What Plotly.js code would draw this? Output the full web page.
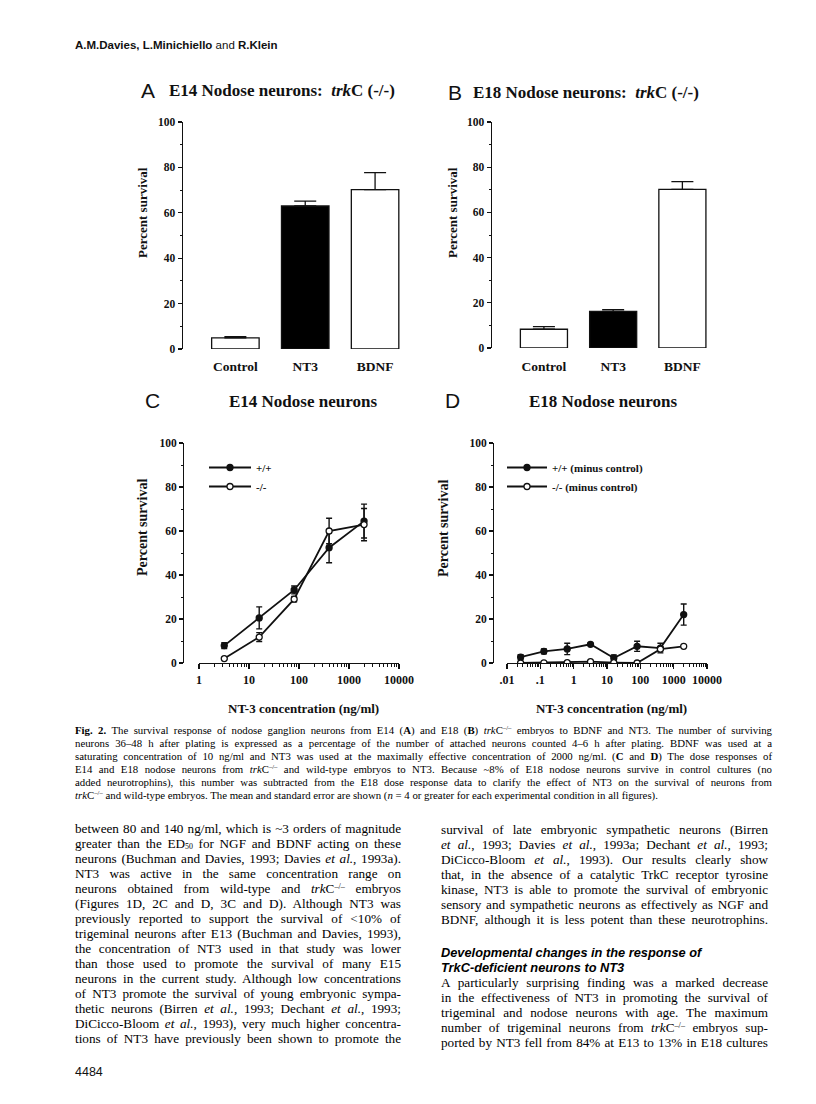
<!DOCTYPE html>
<html><head><meta charset="utf-8">
<script src="https://cdn.plot.ly/plotly-3.0.1.min.js"></script>
<style>
html,body{margin:0;padding:0;background:#fff;}
#page{position:relative;width:816px;height:1104px;overflow:hidden;background:#fff;}
#plot{position:absolute;left:0;top:0;width:816px;height:1104px;}
.t{position:absolute;color:#111;}
.hdr{font-family:"Liberation Sans",Arial,sans-serif;font-size:11.5px;}
.cap div{position:absolute;left:75px;width:697px;height:13px;line-height:13px;font-family:"Liberation Serif","Times New Roman",serif;font-size:10.8px;text-align:justify;text-align-last:justify;}
.cap div.last{text-align-last:left;}
.body div{position:absolute;height:15px;line-height:15px;font-family:"Liberation Serif","Times New Roman",serif;font-size:13.2px;text-align:justify;text-align-last:justify;}
.L div{left:75px;width:326px;}
.R div{left:441px;width:327px;}
.R div.h{font-family:"Liberation Sans",Arial,sans-serif;font-weight:bold;font-style:italic;font-size:12.8px;text-align:left;text-align-last:left;}
sup{font-size:62%;line-height:0;vertical-align:baseline;position:relative;top:-0.55em;}
sub{font-size:60%;line-height:0;vertical-align:baseline;position:relative;top:0.1em;}
</style></head>
<body><div id="page">
<div id="plot"></div>
<div class="t hdr" style="left:75px;top:39px;"><b>A.M.Davies, L.Minichiello</b> and <b>R.Klein</b></div>
<div class="cap">
<div style="top:724px"><b>Fig. 2.</b> The survival response of nodose ganglion neurons from E14 (<b>A</b>) and E18 (<b>B</b>) <i>trk</i>C<sup>–/–</sup> embryos to BDNF and NT3. The number of surviving</div>
<div style="top:737px">neurons 36–48 h after plating is expressed as a percentage of the number of attached neurons counted 4–6 h after plating. BDNF was used at a</div>
<div style="top:750px">saturating concentration of 10 ng/ml and NT3 was used at the maximally effective concentration of 2000 ng/ml. (<b>C</b> and <b>D</b>) The dose responses of</div>
<div style="top:763px">E14 and E18 nodose neurons from <i>trk</i>C<sup>–/–</sup> and wild-type embryos to NT3. Because ~8% of E18 nodose neurons survive in control cultures (no</div>
<div style="top:776px">added neurotrophins), this number was subtracted from the E18 dose response data to clarify the effect of NT3 on the survival of neurons from</div>
<div class="last" style="top:789px"><i>trk</i>C<sup>–/–</sup> and wild-type embryos. The mean and standard error are shown (<i>n</i> = 4 or greater for each experimental condition in all figures).</div>
</div>
<div class="body L">
<div style="top:821px">between 80 and 140 ng/ml, which is ~3 orders of magnitude</div>
<div style="top:836px">greater than the ED<sub>50</sub> for NGF and BDNF acting on these</div>
<div style="top:851px">neurons (Buchman and Davies, 1993; Davies <i>et al.</i>, 1993a).</div>
<div style="top:866px">NT3 was active in the same concentration range on</div>
<div style="top:881px">neurons obtained from wild-type and <i>trk</i>C<sup>–/–</sup> embryos</div>
<div style="top:896px">(Figures 1D, 2C and D, 3C and D). Although NT3 was</div>
<div style="top:911px">previously reported to support the survival of &lt;10% of</div>
<div style="top:926px">trigeminal neurons after E13 (Buchman and Davies, 1993),</div>
<div style="top:941px">the concentration of NT3 used in that study was lower</div>
<div style="top:956px">than those used to promote the survival of many E15</div>
<div style="top:971px">neurons in the current study. Although low concentrations</div>
<div style="top:986px">of NT3 promote the survival of young embryonic sympa-</div>
<div style="top:1001px">thetic neurons (Birren <i>et al.</i>, 1993; Dechant <i>et al.</i>, 1993;</div>
<div style="top:1016px">DiCicco-Bloom <i>et al.</i>, 1993), very much higher concentra-</div>
<div style="top:1031px">tions of NT3 have previously been shown to promote the</div>
</div>
<div class="body R">
<div style="top:822px">survival of late embryonic sympathetic neurons (Birren</div>
<div style="top:837px"><i>et al.</i>, 1993; Davies <i>et al.</i>, 1993a; Dechant <i>et al.</i>, 1993;</div>
<div style="top:852px">DiCicco-Bloom <i>et al.</i>, 1993). Our results clearly show</div>
<div style="top:867px">that, in the absence of a catalytic TrkC receptor tyrosine</div>
<div style="top:882px">kinase, NT3 is able to promote the survival of embryonic</div>
<div style="top:897px">sensory and sympathetic neurons as effectively as NGF and</div>
<div style="top:912px">BDNF, although it is less potent than these neurotrophins.</div>
<div class="h" style="top:945px">Developmental changes in the response of</div>
<div class="h" style="top:960px">TrkC-deficient neurons to NT3</div>
<div style="top:975px">A particularly surprising finding was a marked decrease</div>
<div style="top:990px">in the effectiveness of NT3 in promoting the survival of</div>
<div style="top:1005px">trigeminal and nodose neurons with age. The maximum</div>
<div style="top:1020px">number of trigeminal neurons from <i>trk</i>C<sup>–/–</sup> embryos sup-</div>
<div style="top:1035px">ported by NT3 fell from 84% at E13 to 13% in E18 cultures</div>
</div>
<div class="t hdr" style="left:75px;top:1065px;font-size:12.5px;">4484</div>
</div>
<script>
// ---- data ----
const categories = ['Control', 'NT3', 'BDNF'];
const survivalA = [4.9, 63.0, 70.2];
const errorA = [0.5, 2.1, 7.5];
const survivalB = [8.3, 16.2, 70.2];
const errorB = [1.2, 0.8, 3.4];
const barColors = ['white', 'black', 'white'];

const concC = [3.2, 16, 80, 400, 2000];
const wildC = [7.9, 20.5, 33.2, 52.4, 64.5];
const wildErrC = [1.3, 5.0, 1.8, 6.8, 7.7];
const koC = [2.0, 11.8, 29.0, 60.0, 62.9];
const koErrC = [0.4, 2.0, 1.2, 5.8, 7.3];

const concD = [0.0256, 0.128, 0.64, 3.2, 16, 80, 400, 2000];
const wildD = [2.7, 5.3, 6.4, 8.5, 2.3, 7.6, 6.8, 22.0];
const wildErrD = [1.1, 1.1, 2.6, 0.5, 1.4, 2.3, 2.2, 4.8];
const koD = [0.0, 0.1, 0.2, 0.6, 0.2, 0.0, 6.3, 7.6];
const koErrD = [0, 0, 0, 0, 0, 0, 0.5, 0];

const tickValsC = [1, 10, 100, 1000, 10000];
const tickTextC = ['1', '10', '100', '1000', '10000'];
const tickValsD = [0.01, 0.1, 1, 10, 100, 1000, 10000];
const tickTextD = ['.01', '.1', '1', '10', '100', '1000', '10000'];
const yTicks = [0, 20, 40, 60, 80, 100];

// ---- layout helpers ----
const W = 816, H = 1104;
const px = v => v / W;
const py = v => 1 - v / H;
const SERIF = '"Liberation Serif", "Times New Roman", serif';
const SANS = '"Liberation Sans", Arial, sans-serif';
const INK = '#111';

function barTrace(vals, errs, xa, ya) {
  return {
    type: 'bar', x: categories, y: vals, xaxis: xa, yaxis: ya, width: 0.68,
    marker: {color: barColors, line: {color: INK, width: 1.3}},
    error_y: {type: 'data', symmetric: false, array: errs, arrayminus: [0, 0, 0],
              color: INK, thickness: 1.3, width: 11},
    showlegend: false, hoverinfo: 'skip'
  };
}
function lineTrace(x, y, e, filled, name, xa, ya, leg) {
  return {
    type: 'scatter', mode: 'lines+markers', x: x, y: y, name: name, xaxis: xa, yaxis: ya,
    legend: leg,
    line: {color: INK, width: 1.8},
    marker: {symbol: 'circle', size: 6, color: filled ? INK : 'white', line: {color: INK, width: 1.3}},
    error_y: {type: 'data', array: e, color: INK, thickness: 1.4, width: 3}
  };
}

const data = [
  barTrace(survivalA, errorA, 'x', 'y'),
  barTrace(survivalB, errorB, 'x2', 'y2'),
  lineTrace(concC, wildC, wildErrC, true, '+/+', 'x3', 'y3', 'legend'),
  lineTrace(concC, koC, koErrC, false, '-/-', 'x3', 'y3', 'legend'),
  lineTrace(concD, wildD, wildErrD, true, '+/+ (minus control)', 'x4', 'y4', 'legend2'),
  lineTrace(concD, koD, koErrD, false, '-/- (minus control)', 'x4', 'y4', 'legend2')
];

function yAxis(domTop, domBot, extra) {
  return Object.assign({
    domain: [py(domBot), py(domTop)], range: [0, 100], showgrid: false, zeroline: false,
    showline: true, linecolor: INK, linewidth: 1.4,
    ticks: 'outside', ticklen: 4, tickwidth: 1.2, tickcolor: INK,
    tickvals: yTicks, tickfont: {family: SERIF, size: 11.5, color: INK, weight: 'bold'},
    minor: {ticks: 'outside', ticklen: 2, tickwidth: 1, tickcolor: INK, dtick: 10},
    fixedrange: true
  }, extra);
}
function catAxis(x0, x1) {
  return {
    domain: [px(x0), px(x1)], range: [-0.75, 2.5], type: 'category', showgrid: false,
    zeroline: false, showline: false, ticks: '', ticklabelstandoff: 7,
    tickfont: {family: SERIF, size: 13.5, color: INK, weight: 'bold'}, fixedrange: true
  };
}
function logAxis(x0, x1, range, tv, tt, ya) {
  return {
    domain: [px(x0), px(x1)], type: 'log', range: range, anchor: ya, showgrid: false,
    zeroline: false, showline: true, linecolor: INK, linewidth: 1.4,
    ticks: 'outside', ticklen: 5, tickwidth: 1.2, tickcolor: INK,
    tickvals: tv, ticktext: tt, tickfont: {family: SERIF, size: 12, color: INK, weight: 'bold'},
    minor: {ticks: 'outside', ticklen: 2.5, tickwidth: 1, tickcolor: INK, dtick: 'D1'},
    fixedrange: true
  };
}

const ann = [];
function txt(x, y, text, size, fam, opts) {
  ann.push(Object.assign({xref: 'paper', yref: 'paper', x: px(x), y: py(y), text: text,
    showarrow: false, font: {family: fam, size: size, color: INK}, xanchor: 'center', yanchor: 'middle'}, opts || {}));
}
// panel letters
txt(148, 90, 'A', 21, SANS);
txt(455, 92, 'B', 21, SANS);
txt(152, 400, 'C', 21, SANS);
txt(452, 400, 'D', 21, SANS);
// panel titles
txt(167, 90, '<b>E14 Nodose neurons:  <i>trk</i>C (-/-)</b>', 17, SERIF, {xanchor: 'left'});
txt(471, 92, '<b>E18 Nodose neurons:  <i>trk</i>C (-/-)</b>', 17, SERIF, {xanchor: 'left'});
txt(303, 401, '<b>E14 Nodose neurons</b>', 17, SERIF);
txt(603, 401, '<b>E18 Nodose neurons</b>', 17, SERIF);
// y titles
txt(142, 213, '<b>Percent survival</b>', 13, SERIF, {textangle: -90});
txt(452, 213, '<b>Percent survival</b>', 13, SERIF, {textangle: -90});
txt(142, 528, '<b>Percent survival</b>', 14, SERIF, {textangle: -90});
txt(443, 528, '<b>Percent survival</b>', 14, SERIF, {textangle: -90});
// x titles
txt(303, 708, '<b>NT-3 concentration (ng/ml)</b>', 13, SERIF);
txt(611, 708, '<b>NT-3 concentration (ng/ml)</b>', 13, SERIF);

const legFont = {family: SERIF, size: 11, color: INK, weight: 'bold'};
const layout = {
  width: W, height: H, margin: {l: 0, r: 0, t: 0, b: 0, pad: 0},
  paper_bgcolor: 'rgba(0,0,0,0)', plot_bgcolor: 'rgba(0,0,0,0)',
  showlegend: true,
  xaxis: catAxis(183, 410),
  yaxis: yAxis(122, 349, {anchor: 'x'}),
  xaxis2: catAxis(492, 717),
  yaxis2: yAxis(122, 348, {anchor: 'x2'}),
  xaxis3: logAxis(199, 399, [0, 4], tickValsC, tickTextC, 'y3'),
  yaxis3: yAxis(443, 663, {anchor: 'free', position: px(183)}),
  xaxis4: logAxis(507, 707, [-2, 4], tickValsD, tickTextD, 'y4'),
  yaxis4: yAxis(443, 663, {anchor: 'free', position: px(493)}),
  legend: {x: px(204), y: py(453), xanchor: 'left', yanchor: 'top', bgcolor: 'rgba(0,0,0,0)',
           font: legFont, tracegroupgap: 0, itemwidth: 42},
  legend2: {x: px(502), y: py(453), xanchor: 'left', yanchor: 'top', bgcolor: 'rgba(0,0,0,0)',
            font: legFont, tracegroupgap: 0, itemwidth: 40},
  annotations: ann
};
Plotly.newPlot('plot', data, layout, {staticPlot: true, displayModeBar: false});
</script>
</body></html>
